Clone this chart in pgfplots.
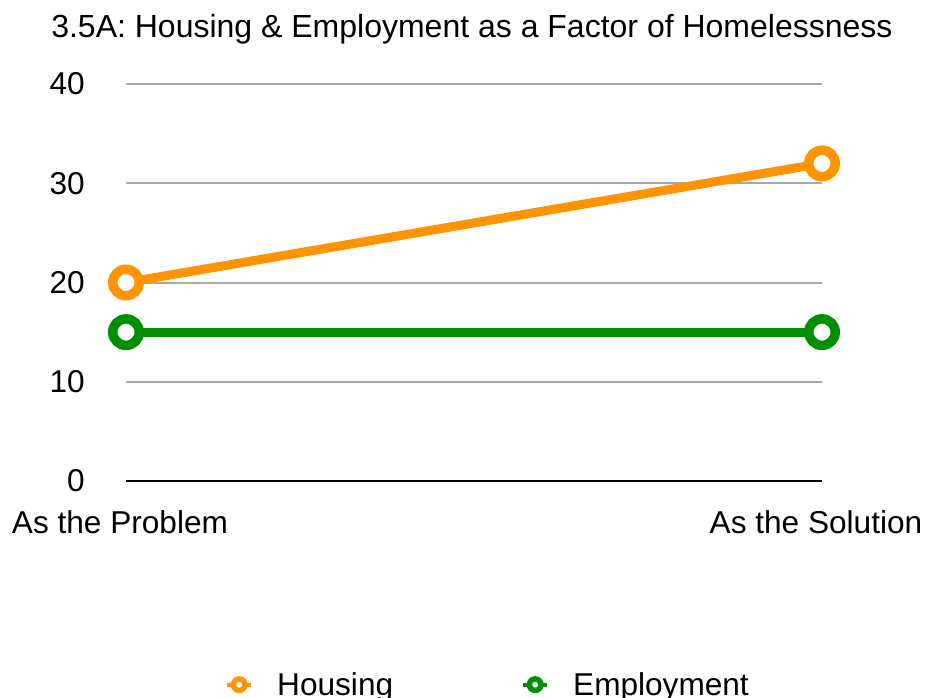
\documentclass[border=0pt]{standalone}
\usepackage{pgfplots}
\pgfplotsset{compat=1.18}
\usepackage{fontspec}
\setmainfont{Liberation Sans}
\definecolor{horange}{HTML}{FF9300}
\definecolor{egreen}{HTML}{008F00}
\definecolor{gridgray}{HTML}{A8A8A8}
\newcommand{\bigf}{\fontsize{31.6bp}{38bp}\selectfont}
\begin{document}
\begin{tikzpicture}
\begin{axis}[
  at={(0,0)}, anchor=south west,
  scale only axis, width=696bp, height=397bp,
  xmin=0, xmax=1, ymin=0, ymax=40,
  clip=false,
  axis line style={draw=none},
  major tick length=0pt,
  xtick={0,1}, xticklabels={As the Problem, As the Solution},
  ytick={10,20,30,40},
  extra y ticks={0},
  extra y tick style={grid style={black, line width=2.5bp}},
  ymajorgrids,
  grid style={gridgray, line width=2bp},
  /pgf/number format/assume math mode=true,
  every tick label/.append style={font=\bigf, inner sep=0pt},
  yticklabel style={anchor=east, xshift=-41bp},
  xticklabel style={anchor=north, yshift=-29bp, xshift=-6bp},
  title={3.5A: Housing \& Employment as a Factor of Homelessness},
  title style={font=\fontsize{32bp}{38bp}\selectfont, at={(rel axis cs:0.497,1.101)}, anchor=base, inner sep=0pt},
  legend columns=2,
  legend style={draw=none, fill=none, font=\bigf,
    at={(rel axis cs:0.138,-0.513)}, anchor=west,
    nodes={inner sep=0pt},
    column sep=24bp,
    /tikz/every even column/.append style={column sep=128bp}},
  legend cell align=left,
]
\addplot[horange, line width=9bp, mark=*, mark size=13.25bp,
  mark options={fill=white, line width=9.5bp},
  legend image code/.code={
    \draw[horange, line width=4bp] (0bp,0bp) -- (24bp,0bp);
    \draw[horange, fill=white, line width=5.5bp] (12bp,0bp) circle (5.75bp);}]
  coordinates {(0,20) (1,32)};
\addlegendentry{Housing}
\addplot[egreen, line width=9bp, mark=*, mark size=13.25bp,
  mark options={fill=white, line width=9.5bp},
  legend image code/.code={
    \draw[egreen, line width=4bp] (0bp,0bp) -- (24bp,0bp);
    \draw[egreen, fill=white, line width=5.5bp] (12bp,0bp) circle (5.75bp);}]
  coordinates {(0,15) (1,15)};
\addlegendentry{Employment}
\end{axis}
\pgfresetboundingbox
\path[use as bounding box] (-126bp,-217bp) rectangle (799bp,481bp);
\end{tikzpicture}
\end{document}
